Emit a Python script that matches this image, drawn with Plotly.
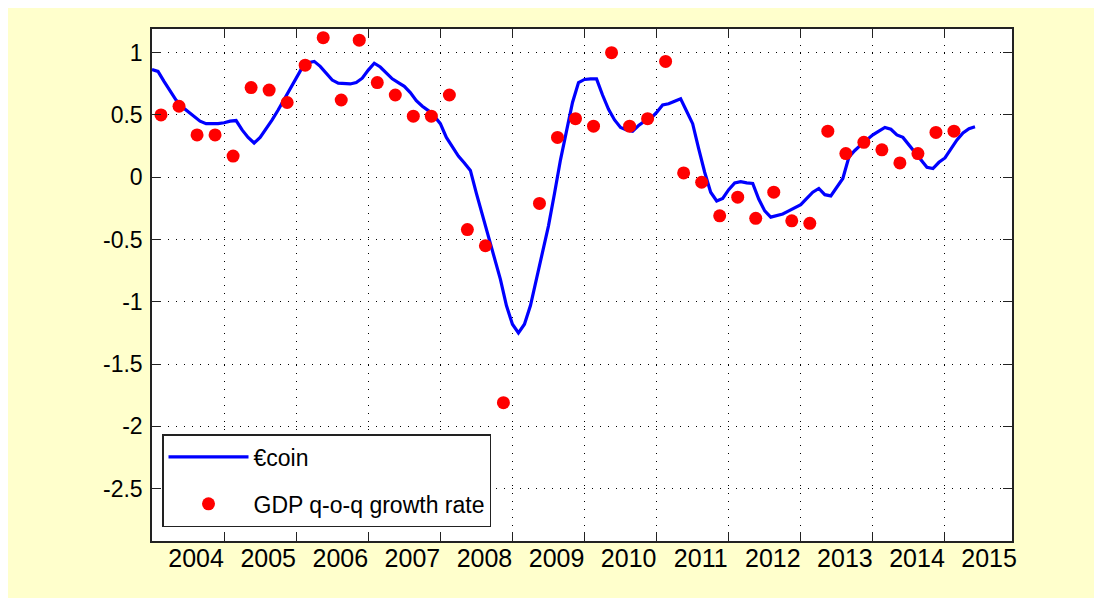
import plotly.graph_objects as go

# ---------------- data ----------------
year_labels = [str(y) for y in range(2004, 2016)]
year_label_vals = list(range(2004, 2016))
grid_years = list(range(2005, 2016))

# GDP q-o-q growth rate, quarterly from 2004Q1 (None = not shown)
gdp_start = 2004
gdp_qoq = [0.50, 0.57, 0.34, 0.34,
           0.17, 0.72, 0.70, 0.60,
           0.90, 1.12, 0.62, 1.10,
           0.76, 0.66, 0.49, 0.49,
           0.66, -0.42, -0.55, -1.81,
           None, -0.21, 0.32, 0.47,
           0.41, 1.00, 0.41, 0.47,
           0.93, 0.035, -0.04, -0.31,
           -0.16, -0.33, -0.12, -0.35,
           -0.37, 0.37, 0.19, 0.28,
           0.22, 0.115, 0.19, 0.36,
           0.37]

# €coin, monthly from Jan 2004
eurocoin_start = 2004
eurocoin = [0.865, 0.85, 0.77, 0.69, 0.62, 0.565, 0.525, 0.485, 0.45, 0.43, 0.428, 0.43,
            0.437, 0.45, 0.455, 0.38, 0.32, 0.275, 0.32, 0.385, 0.46, 0.54, 0.625, 0.71,
            0.80, 0.88, 0.92, 0.93, 0.89, 0.835, 0.78, 0.755, 0.749, 0.749, 0.76, 0.795,
            0.86, 0.915, 0.885, 0.84, 0.79, 0.76, 0.73, 0.68, 0.615, 0.57, 0.535, 0.49,
            0.43, 0.32, 0.24, 0.17, 0.115, 0.055, -0.13, -0.30, -0.475, -0.65, -0.82, -1.03,
            -1.18, -1.25, -1.18, -1.03, -0.82, -0.61, -0.39, -0.13, 0.14, 0.37, 0.60, 0.76,
            0.785, 0.79, 0.79, 0.66, 0.545, 0.46, 0.40, 0.38, 0.37, 0.415, 0.45, 0.47,
            0.52, 0.58, 0.59, 0.61, 0.63, 0.53, 0.43, 0.23, 0.04, -0.12, -0.19, -0.17,
            -0.10, -0.045, -0.035, -0.045, -0.05, -0.175, -0.27, -0.32, -0.31, -0.295, -0.27, -0.245,
            -0.22, -0.17, -0.12, -0.09, -0.14, -0.15, -0.085, -0.01, 0.16, 0.215, 0.26, 0.30,
            0.34, 0.37, 0.40, 0.385, 0.34, 0.32, 0.26, 0.19, 0.135, 0.08, 0.07, 0.12,
            0.155, 0.23, 0.30, 0.355, 0.39, 0.405]

y_ticks = [-2.5, -2, -1.5, -1, -0.5, 0, 0.5, 1]
y_tick_text = ["-2.5", "-2", "-1.5", "-1", "-0.5", "0", "0.5", "1"]

# ---------------- derived x positions (dates as decimal years) ----------------
gdp_x = [gdp_start + k / 4 + 0.125 for k in range(len(gdp_qoq))]
eurocoin_x = [eurocoin_start + m / 12 for m in range(len(eurocoin))]

X0, X1 = 2004.0, 2015.93
LABEL_SHIFT = 0.612  # year labels sit left of the next year's tick
FONT = "Liberation Sans Narrow, Liberation Sans, Arial, sans-serif"

fig = go.Figure()
fig.add_trace(go.Scatter(
    x=eurocoin_x, y=eurocoin, mode="lines", name="€coin",
    line=dict(color="#0000FF", width=3.2), legendgroup="a"))
fig.add_trace(go.Scatter(
    x=gdp_x, y=gdp_qoq, mode="markers", name="GDP q-o-q growth rate",
    marker=dict(color="#FF0000", size=13, symbol="circle"), legendgroup="b"))
# carrier for the label axis
fig.add_trace(go.Scatter(x=[], y=[], xaxis="x2", showlegend=False, hoverinfo="skip"))

W, H = 1102, 598
L, R, T, B = 144, 1004, 21, 533
fig.update_layout(
    width=W, height=H,
    margin=dict(l=L, r=W - R, t=T, b=H - B, pad=0),
    paper_bgcolor="#FFFFCC",
    plot_bgcolor="white",
    font=dict(family=FONT, color="black"),
    showlegend=True,
    legend=dict(
        x=(154 - L) / (R - L), y=(B - 426) / (B - T), xanchor="left", yanchor="top",
        bgcolor="white", bordercolor="#222222", borderwidth=1.5,
        font=dict(family=FONT, size=23, color="black"),
        itemwidth=80, tracegroupgap=14, traceorder="grouped",
    ),
    xaxis=dict(
        range=[X0, X1], tickvals=grid_years, showticklabels=False,
        ticks="inside", ticklen=9, tickcolor="#222222", tickwidth=1,
        showline=True, linecolor="#222222", linewidth=1.5, mirror="ticks",
        showgrid=True, gridcolor="black", gridwidth=1, griddash="1px,7px",
        zeroline=False,
    ),
    xaxis2=dict(
        range=[X0 - LABEL_SHIFT, X1 - LABEL_SHIFT], overlaying="x", anchor="y", side="bottom",
        tickvals=year_label_vals, ticktext=year_labels, ticks="",
        showgrid=False, showline=False, zeroline=False,
        tickfont=dict(family=FONT, size=25, color="black"),
    ),
    yaxis=dict(
        range=[-2.92, 1.19], tickvals=y_ticks, ticktext=y_tick_text,
        ticks="inside", ticklen=9, tickcolor="#222222", tickwidth=1,
        showline=True, linecolor="#222222", linewidth=1.5, mirror="ticks",
        showgrid=True, gridcolor="black", gridwidth=1, griddash="1px,7px",
        zeroline=False,
        tickfont=dict(family=FONT, size=23, color="black"),
        ticklabelstandoff=3,
    ),
)

fig.write_html("out.html")
